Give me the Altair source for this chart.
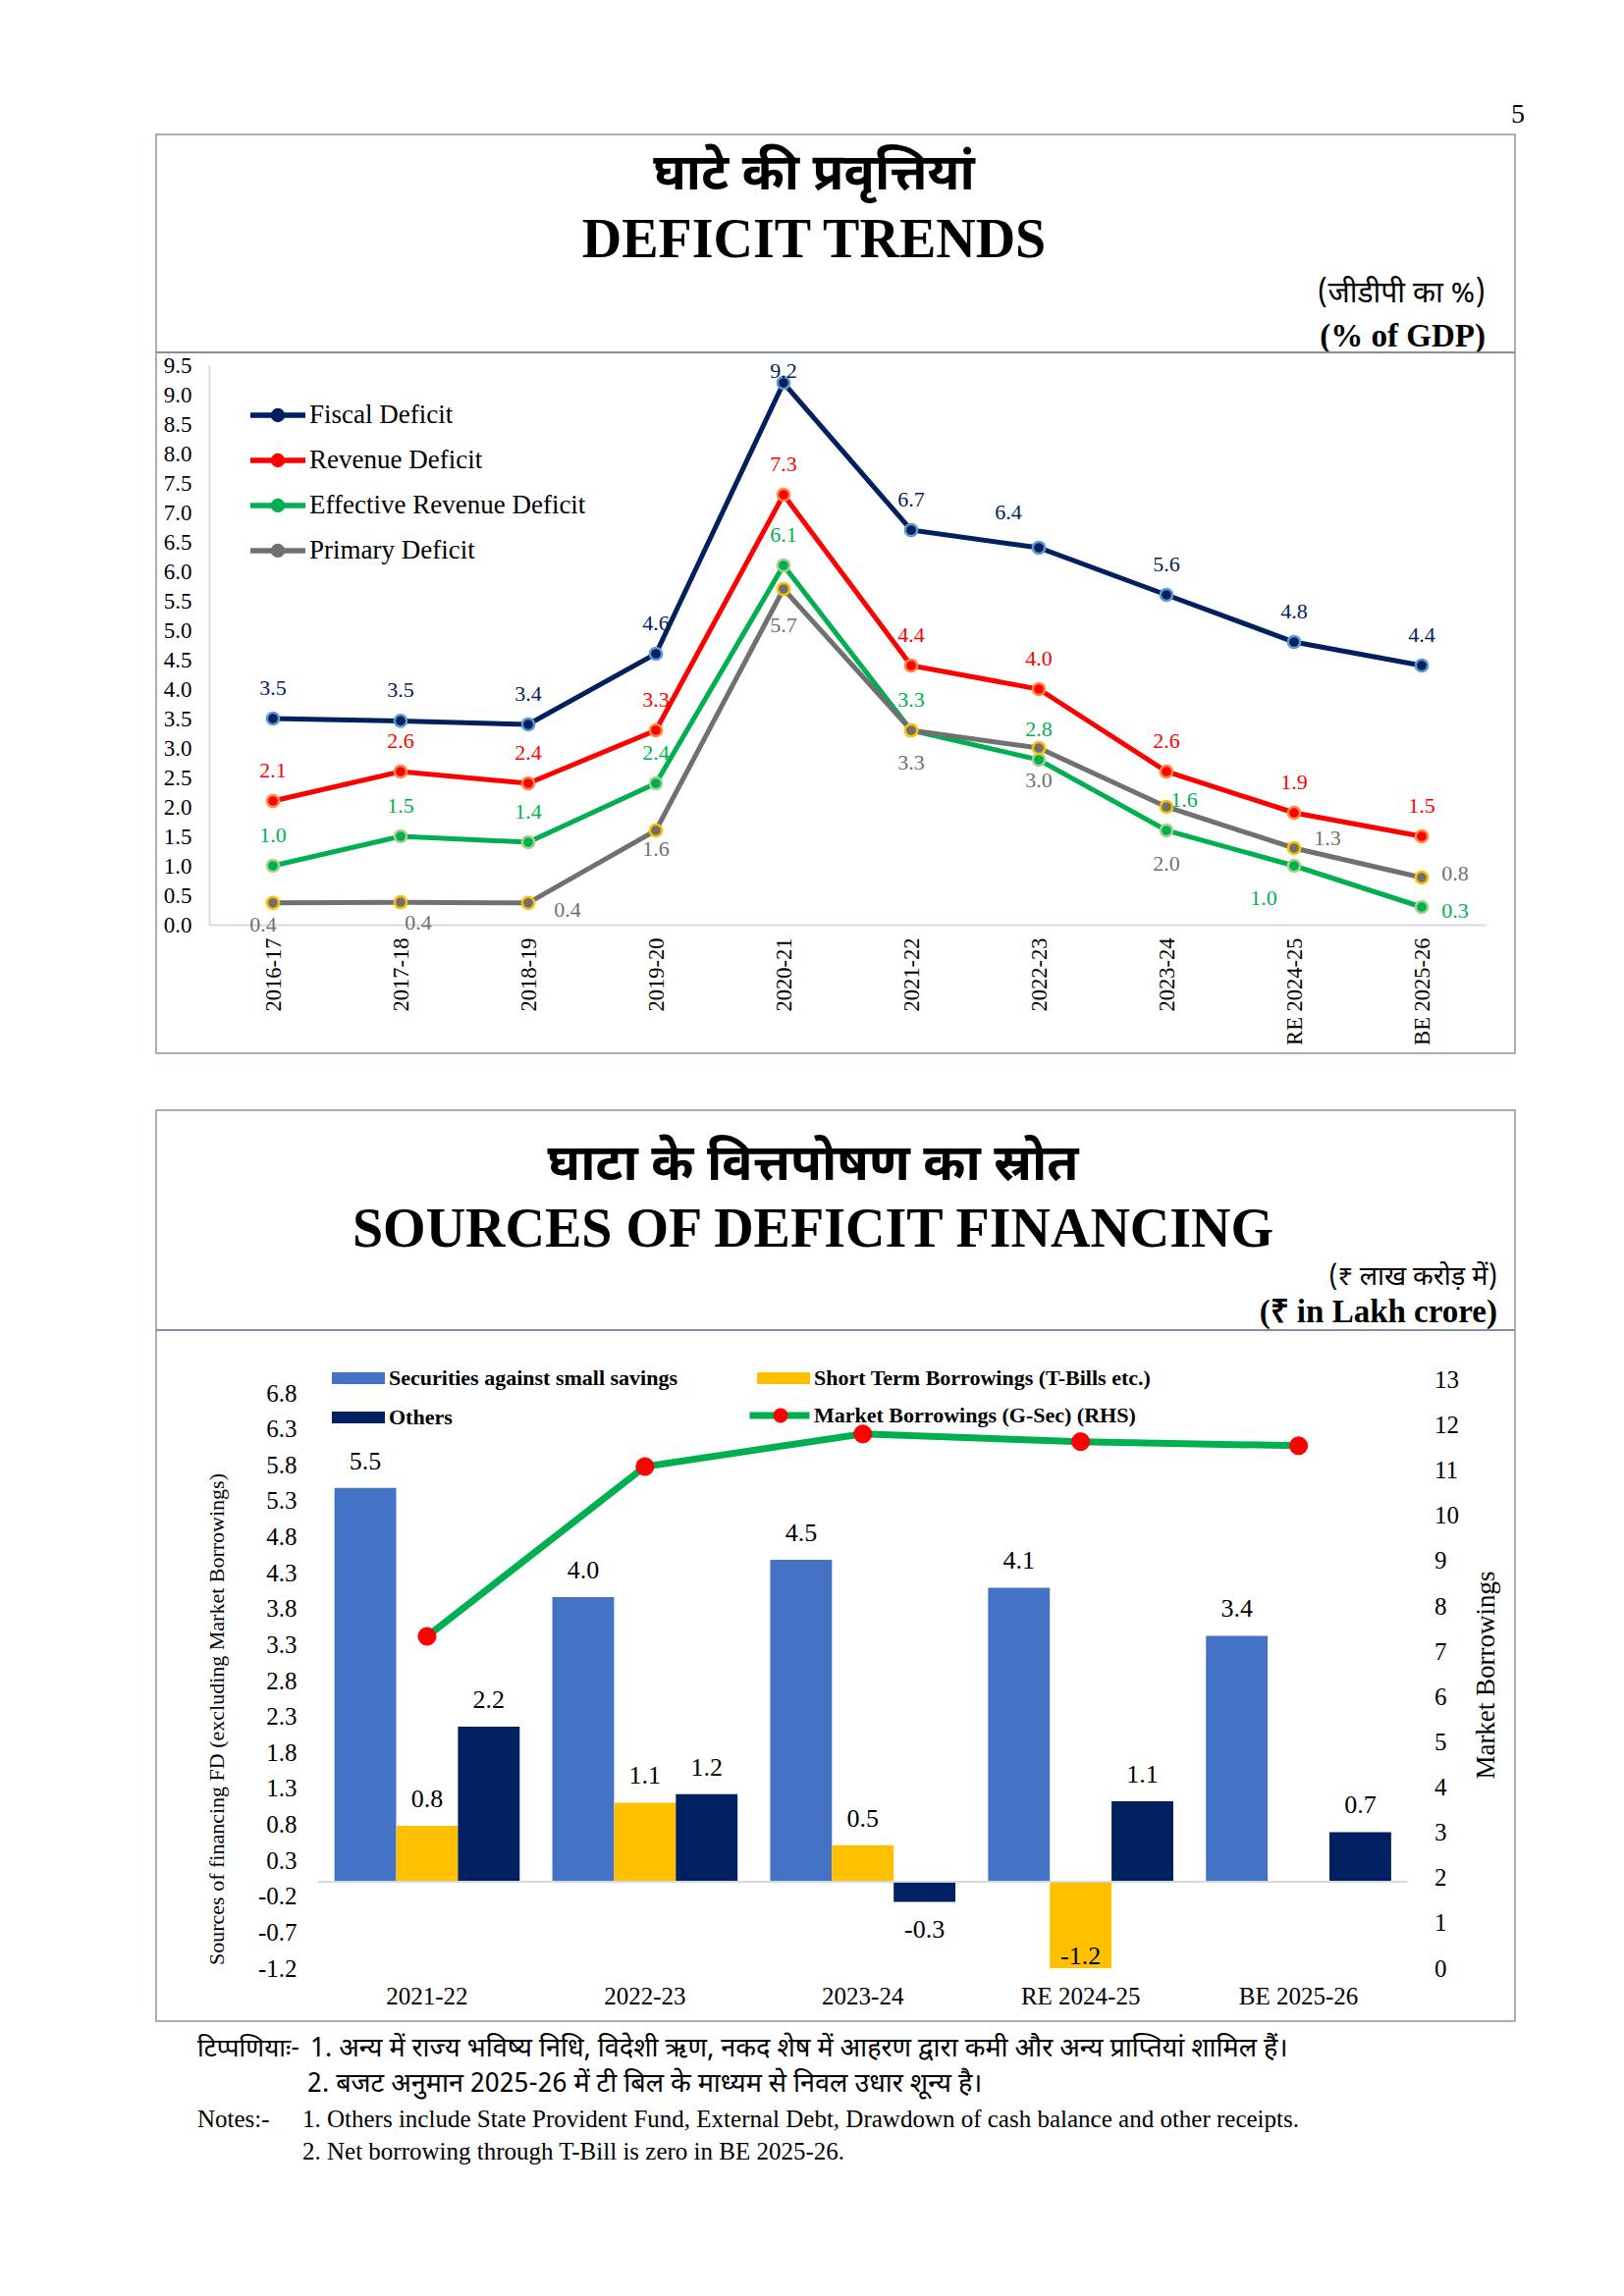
import altair as alt
import pandas as pd

SERIF = "Liberation Serif"
HINDI = "Noto Sans Devanagari, Lohit Devanagari, FreeSans, Noto Sans, sans-serif"
BOX = "#8C96A0"
DIVIDER = "#7F8FA6"
AXIS_GRAY = "#D9D9D9"

# ---------------- Chart 1: Deficit trends (% of GDP) ----------------
years = ["2016-17", "2017-18", "2018-19", "2019-20", "2020-21",
         "2021-22", "2022-23", "2023-24", "RE 2024-25", "BE 2025-26"]
series_names = ["Fiscal Deficit", "Revenue Deficit",
                "Effective Revenue Deficit", "Primary Deficit"]
fiscal = [3.5, 3.46, 3.4, 4.6, 9.2, 6.7, 6.4, 5.6, 4.8, 4.4]
revenue = [2.1, 2.6, 2.4, 3.3, 7.3, 4.4, 4.0, 2.6, 1.9, 1.5]
effective = [1.0, 1.5, 1.4, 2.4, 6.1, 3.3, 2.8, 1.6, 1.0, 0.3]
primary = [0.37, 0.38, 0.37, 1.6, 5.7, 3.3, 3.0, 2.0, 1.3, 0.8]
line_colors = ["#002060", "#FF0000", "#00B050", "#707070"]
outline_colors = ["#5B9BD5", "#FF8C3C", "#A9D18E", "#FFC000"]
y_ticks_top = [0.0, 0.5, 1.0, 1.5, 2.0, 2.5, 3.0, 3.5, 4.0, 4.5, 5.0,
               5.5, 6.0, 6.5, 7.0, 7.5, 8.0, 8.5, 9.0, 9.5]

# label placement (pixel nudges from each point, like the hand-placed labels)
DEFAULT_NUDGE = {"Fiscal Deficit": (0, -31), "Revenue Deficit": (0, -31),
                 "Effective Revenue Deficit": (0, -31), "Primary Deficit": (0, 33)}
LABEL_NUDGE = {
    ("Fiscal Deficit", "2020-21"): (0, -12),
    ("Fiscal Deficit", "2022-23"): (-31, -36),
    ("Effective Revenue Deficit", "2023-24"): (18, -31),
    ("Effective Revenue Deficit", "RE 2024-25"): (-31, 33),
    ("Effective Revenue Deficit", "BE 2025-26"): (34, 4),
    ("Primary Deficit", "2016-17"): (-10, 22),
    ("Primary Deficit", "2017-18"): (18, 21),
    ("Primary Deficit", "2018-19"): (40, 7),
    ("Primary Deficit", "2019-20"): (0, 19),
    ("Primary Deficit", "2020-21"): (0, 37),
    ("Primary Deficit", "2023-24"): (0, 58),
    ("Primary Deficit", "RE 2024-25"): (34, -10),
    ("Primary Deficit", "BE 2025-26"): (34, -4),
}
PX_PER_UNIT_TOP = 60.0

rows = []
for name, vals in zip(series_names, [fiscal, revenue, effective, primary]):
    for yr, v in zip(years, vals):
        ndx, ndy = LABEL_NUDGE.get((name, yr), DEFAULT_NUDGE[name])
        rows.append({"year": yr, "series": name, "value": v, "ldx": ndx, "ldy": ndy})
top_df = pd.DataFrame(rows)

# ---------------- Chart 2: Sources of deficit financing ----------------
fy = ["2021-22", "2022-23", "2023-24", "RE 2024-25", "BE 2025-26"]
bar_series = ["Securities against small savings",
              "Short Term Borrowings (T-Bills etc.)", "Others"]
securities = [5.48, 3.96, 4.48, 4.09, 3.42]
short_term = [0.78, 1.10, 0.51, -1.20, 0.0]
others = [2.16, 1.22, -0.28, 1.12, 0.69]
bar_colors = ["#4472C4", "#FFC000", "#002060"]
mb_name = "Market Borrowings (G-Sec) (RHS)"
mb_marker = "RHS marker"
market = [7.33, 11.08, 11.80, 11.63, 11.54]
left_ticks = [-1.2, -0.7, -0.2, 0.3, 0.8, 1.3, 1.8, 2.3, 2.8, 3.3, 3.8,
              4.3, 4.8, 5.3, 5.8, 6.3, 6.8]
right_ticks = [0, 1, 2, 3, 4, 5, 6, 7, 8, 9, 10, 11, 12, 13]

brows = []
for name, vals in zip(bar_series, [securities, short_term, others]):
    for yr, v in zip(fy, vals):
        brows.append({"year": yr, "series": name, "value": v})
bar_df = pd.DataFrame(brows)
mb_df = pd.DataFrame({"year": fy, "mb": market, "name": mb_name, "dot": mb_marker})

ONE = alt.Data(values=[{"k": 1}])
HYPHEN_FMT = "(datum.value < 0 ? '-' : '') + format(abs(datum.value), '.1f')"


def txt(text, x, y, size, font=SERIF, weight="normal", align="center",
        baseline="middle", color="black"):
    return alt.Chart(ONE).mark_text(
        text=text, font=font, fontSize=size, fontWeight=weight,
        align=align, baseline=baseline, color=color
    ).encode(x=alt.value(x), y=alt.value(y))


def hline(x1, x2, y, color=DIVIDER, width=2):
    return alt.Chart(ONE).mark_rule(color=color, strokeWidth=width).encode(
        x=alt.value(x1), x2=alt.value(x2), y=alt.value(y))


def anchor(x, y):
    return alt.Chart(ONE).mark_rect(color="white").encode(
        x=alt.value(x), x2=alt.value(x + 1), y=alt.value(y), y2=alt.value(y + 1))


# ---------- top chart ----------
W1, H1 = 1384, 936
x_top = alt.X(
    "year:N", sort=years, title=None,
    scale=alt.Scale(type="point", domain=years, range=[54, 1354], padding=0.5),
    axis=alt.Axis(orient="bottom", offset=-131, domainColor=AXIS_GRAY,
                  domainWidth=2, ticks=False, labelAngle=270,
                  labelAlign="right", labelBaseline="middle", labelPadding=13,
                  labelFont=SERIF, labelFontSize=22.5, labelColor="black"))
y_scale_top = alt.Scale(domain=[0, 9.5], range=[805, 235], nice=False, zero=False)
y_axis_top = alt.Axis(orient="left", offset=-54, values=y_ticks_top,
                      format=".1f", grid=False, ticks=False,
                      domainColor=AXIS_GRAY, domainWidth=2, labelPadding=18,
                      labelFont=SERIF, labelFontSize=23, labelColor="black")

TOP_SYMBOL = "M-1,0L1,0M0.16,0A0.16,0.16,0,1,1,-0.16,0A0.16,0.16,0,1,1,0.16,0"
top_legend = alt.Legend(
    title=None, orient="none", legendX=93, legendY=273,
    symbolType=TOP_SYMBOL, symbolSize=3136, symbolStrokeWidth=5.5,
    labelFont=SERIF, labelFontSize=27, labelColor="black", labelOffset=1,
    clipHeight=26, rowPadding=19, padding=0, labelLimit=800)

base_top = alt.Chart(top_df)
lines_top = base_top.mark_line(strokeWidth=5).encode(
    x=x_top,
    y=alt.Y("value:Q", scale=y_scale_top, axis=y_axis_top, title=None),
    color=alt.Color("series:N", sort=series_names,
                    scale=alt.Scale(domain=series_names, range=line_colors),
                    legend=top_legend))
points_top = base_top.mark_point(filled=True, size=150, strokeWidth=2.5,
                                 opacity=1).encode(
    x=x_top,
    y=alt.Y("value:Q", scale=y_scale_top, axis=y_axis_top, title=None),
    fill=alt.Fill("series:N", scale=alt.Scale(domain=series_names, range=line_colors),
                  legend=None),
    stroke=alt.Stroke("series:N", scale=alt.Scale(domain=series_names, range=outline_colors),
                      legend=None))

label_layers = []
for dxv in sorted(set(top_df["ldx"])):
    label_layers.append(
        base_top.transform_filter(f"datum.ldx == {dxv}").transform_calculate(
            label_y=f"datum.value - datum.ldy / {PX_PER_UNIT_TOP}"
        ).mark_text(font=SERIF, fontSize=22, baseline="middle", dx=dxv).encode(
            x=x_top,
            y=alt.Y("label_y:Q", scale=y_scale_top, axis=y_axis_top, title=None),
            text=alt.Text("value:Q", format=".1f"),
            fill=alt.Fill("series:N",
                          scale=alt.Scale(domain=series_names, range=line_colors),
                          legend=None)))

top = alt.layer(
    anchor(-150, -128),
    txt("5", 1387, -20, 28),
    txt("घाटे की प्रवृत्तियां", 670, 40, 52, font=HINDI, weight="bold"),
    txt("DEFICIT TRENDS", 670, 108, 56, weight="bold"),
    txt("(जीडीपी  का  %)", 1354, 162, 30, font=HINDI, align="right"),
    txt("(% of GDP)", 1354, 206, 33, weight="bold", align="right"),
    hline(0, W1, 222),
    lines_top, points_top, *label_layers,
).properties(width=W1, height=H1)

# ---------- bottom chart ----------
W2, H2 = 1384, 928
xb_scale = alt.Scale(type="band", domain=fy, range=[165, 1274.5],
                     paddingInner=0.15, paddingOuter=0.075)
xb_axis = alt.Axis(orient="bottom", offset=-54, domain=False, ticks=False,
                   labelPadding=16, labelFontSize=25, labelFont=SERIF,
                   labelColor="black", labelAngle=0)
xb = alt.X("year:N", sort=fy, scale=xb_scale, axis=xb_axis, title=None)
xoff = alt.XOffset("series:N", sort=bar_series, scale=alt.Scale(domain=bar_series))
yl_scale = alt.Scale(domain=[-1.2, 6.8], range=[874, 288], nice=False, zero=True)
yl_axis = alt.Axis(orient="left", offset=-165, values=left_ticks,
                   labelExpr=HYPHEN_FMT,
                   domain=False, ticks=False, grid=False, labelPadding=22,
                   labelFontSize=25, labelFont=SERIF, labelColor="black",
                   titleFont=SERIF, titleFontWeight="normal", titleFontSize=22,
                   titleAngle=270, titleX=-104, titleY=620, titleAlign="center",
                   titleBaseline="middle", titleColor="black")
yl_title = "Sources of  financing FD (excluding Market Borrowings)"
yr_scale = alt.Scale(domain=[0, 13], range=[874, 274.5], nice=False, zero=True)
yr_axis = alt.Axis(orient="right", offset=-109.5, values=right_ticks, format="d",
                   domain=False, ticks=False, grid=False, labelPadding=27,
                   labelFontSize=25, labelFont=SERIF, labelColor="black",
                   titleFont=SERIF, titleFontWeight="normal", titleFontSize=27,
                   titleAngle=270, titleX=79.5, titleY=575, titleAlign="center",
                   titleBaseline="middle", titleColor="black")

BAR_SYMBOL = "M-1,-0.22L1,-0.22L1,0.22L-1,0.22Z"
bar_legend = alt.Legend(
    title=None, orient="none", legendX=179, legendY=263, columns=2,
    direction="horizontal", columnPadding=81, rowPadding=18,
    symbolType=BAR_SYMBOL, symbolSize=2916,
    symbolStrokeWidth=0, labelFont=SERIF, labelFontWeight="bold",
    labelFontSize=22, labelColor="black", labelOffset=4, clipHeight=20,
    padding=0, labelLimit=800)
mb_legend = alt.Legend(
    title=None, orient="none", legendX=601, legendY=301,
    symbolType="M-1,0L1,0", symbolSize=3721, symbolStrokeWidth=7,
    labelFont=SERIF, labelFontWeight="bold", labelFontSize=22,
    labelColor="black", labelOffset=1, clipHeight=20, padding=0,
    labelLimit=800, zindex=1)
DOT_SYMBOL = "M0.1,0A0.1,0.1,0,1,1,-0.1,0A0.1,0.1,0,1,1,0.1,0Z"
dot_legend = alt.Legend(
    title=None, orient="none", legendX=601, legendY=301,
    symbolType=DOT_SYMBOL, symbolSize=3721, symbolStrokeWidth=9,
    labelExpr="''", clipHeight=20, padding=0, zindex=2)

bars = alt.Chart(bar_df).mark_bar().encode(
    x=xb, xOffset=xoff,
    y=alt.Y("value:Q", scale=yl_scale, axis=yl_axis, title=yl_title),
    fill=alt.Fill("series:N", sort=bar_series,
                  scale=alt.Scale(domain=bar_series, range=bar_colors),
                  legend=bar_legend))
zero_rule = alt.Chart(ONE).mark_rule(color=AXIS_GRAY, strokeWidth=2).encode(
    y=alt.Y(datum=0, scale=yl_scale, axis=yl_axis, title=yl_title),
    x=alt.value(165), x2=alt.value(1274.5))
bar_labels = alt.Chart(bar_df).transform_filter("datum.value != 0").transform_calculate(
    label_y="datum.value >= 0 ? datum.value + 0.37 : max(datum.value - 0.39, -1.04)",
    label_txt=HYPHEN_FMT,
).mark_text(font=SERIF, fontSize=26, baseline="middle", color="black").encode(
    x=xb, xOffset=xoff,
    y=alt.Y("label_y:Q", scale=yl_scale, axis=yl_axis, title=yl_title),
    text=alt.Text("label_txt:N"))

xb_line = alt.X("year:N", sort=fy, scale=xb_scale, axis=xb_axis, title=None,
                bandPosition=0.5)
mb_line = alt.Chart(mb_df).mark_line(strokeWidth=7).encode(
    x=xb_line,
    y=alt.Y("mb:Q", scale=yr_scale, axis=yr_axis, title="Market Borrowings"),
    color=alt.Color("name:N", scale=alt.Scale(domain=[mb_name], range=["#00B050"]),
                    legend=mb_legend))
mb_points = alt.Chart(mb_df).mark_point(filled=True, size=330, fill="#FF0000",
                                        opacity=1, strokeWidth=1).encode(
    x=xb_line,
    y=alt.Y("mb:Q", scale=yr_scale, axis=yr_axis, title="Market Borrowings"),
    stroke=alt.Stroke("dot:N", scale=alt.Scale(domain=[mb_marker], range=["#FF0000"]),
                      legend=dot_legend))

left_layer = alt.layer(bars, zero_rule, bar_labels)
right_layer = alt.layer(mb_line, mb_points)
plot2 = alt.layer(left_layer, right_layer).resolve_scale(y="independent")

notes_y = [956, 992, 1028, 1061]
bottom = alt.layer(
    anchor(-150, 0),
    txt("घाटा के वित्तपोषण का स्रोत", 669, 55, 52, font=HINDI, weight="bold"),
    txt("SOURCES OF DEFICIT FINANCING", 669, 122, 56, weight="bold"),
    txt("(₹ लाख करोड़ में)", 1366, 170, 27, font=HINDI, align="right"),
    txt("(₹ in Lakh crore)", 1366, 206, 33, weight="bold", align="right"),
    hline(0, W2, 224),
    plot2,
    txt("टिप्पणियाः-", 42, notes_y[0], 26, font=HINDI, align="left"),
    txt("1. अन्य में राज्य भविष्य निधि, विदेशी ऋण, नकद शेष में आहरण द्वारा कमी और अन्य प्राप्तियां शामिल हैं।",
        157, notes_y[0], 27, font=HINDI, align="left"),
    txt("2. बजट अनुमान 2025-26 में  टी बिल के माध्यम से निवल उधार शून्य है।",
        154, notes_y[1], 27, font=HINDI, align="left"),
    txt("Notes:-", 42, notes_y[2], 25, align="left"),
    txt("1. Others include State Provident Fund, External Debt, Drawdown of cash balance and other receipts.",
        149, notes_y[2], 25, align="left"),
    txt("2. Net borrowing through T-Bill is zero in BE 2025-26.",
        149, notes_y[3], 25, align="left"),
).properties(width=W2, height=H2)

chart = alt.vconcat(top, bottom, spacing=56).resolve_scale(
    color="independent", fill="independent", stroke="independent"
).resolve_legend(
    color="independent", fill="independent", stroke="independent"
).properties(
    padding=0, background="white"
).configure_view(stroke=BOX, strokeWidth=1.5)

chart.save("out.html", embed_options={"renderer": "svg", "actions": False})
